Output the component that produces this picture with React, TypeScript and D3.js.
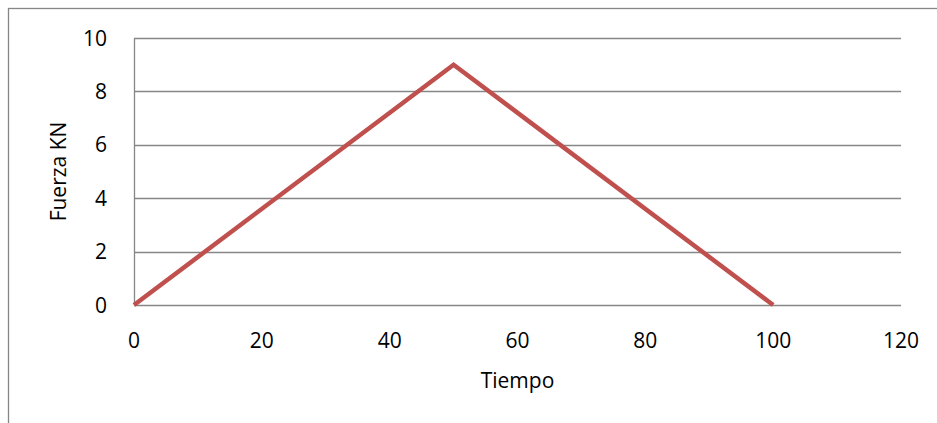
import React from "react";
import * as d3 from "d3";

const tiempo = [0, 50, 100];
const fuerza = [0, 9, 0];
const xTicks = [0, 20, 40, 60, 80, 100, 120];
const yTicks = [0, 2, 4, 6, 8, 10];
const xLabel = "Tiempo";
const yLabel = "Fuerza KN";

export default function App() {
  const W = 937, H = 423;
  const left = 134, right = 901, top = 38, bottom = 305;
  const x = d3.scaleLinear().domain([0, 120]).range([left, right]);
  const y = d3.scaleLinear().domain([0, 10]).range([bottom, top]);
  const pts = tiempo.map((t, i) => [t, fuerza[i]] as [number, number]);
  const line = d3.line<[number, number]>().x(d => x(d[0])).y(d => y(d[1]));
  const font = "'Open Sans', 'Noto Sans', sans-serif";
  const fs = 21;
  return (
    <svg width={W} height={H} style={{ position: "absolute", left: 0, top: 0 }} fontFamily={font}>
      <rect x={0} y={0} width={W} height={H} fill="#fff" />
      <rect x={8.5} y={8.5} width={960} height={460} fill="none" stroke="#868686" strokeWidth={1.3} />
      {yTicks.map(t => (
        <g key={t}>
          <line x1={left} x2={right} y1={Math.round(y(t)) + 0.5} y2={Math.round(y(t)) + 0.5} stroke="#868686" strokeWidth={1.3} />
          <text x={107} y={y(t)} dy="0.36em" textAnchor="end" fontSize={fs} fill="#000">{t}</text>
        </g>
      ))}
      <line x1={left + 0.5} x2={left + 0.5} y1={top} y2={bottom} stroke="#868686" strokeWidth={1.3} />
      {xTicks.map(t => (
        <text key={t} x={x(t)} y={340} dy="0.36em" textAnchor="middle" fontSize={fs} fill="#000">{t}</text>
      ))}
      <path d={line(pts) || ""} fill="none" stroke="#C0504D" strokeWidth={4.5} strokeLinejoin="miter" />
      <text x={(left + right) / 2} y={380} dy="0.36em" textAnchor="middle" fontSize={fs} fill="#000">{xLabel}</text>
      <text transform={`translate(58.5,${(top + bottom) / 2}) rotate(-90)`} dy="0.36em" textAnchor="middle" fontSize={fs} fill="#000">{yLabel}</text>
    </svg>
  );
}
